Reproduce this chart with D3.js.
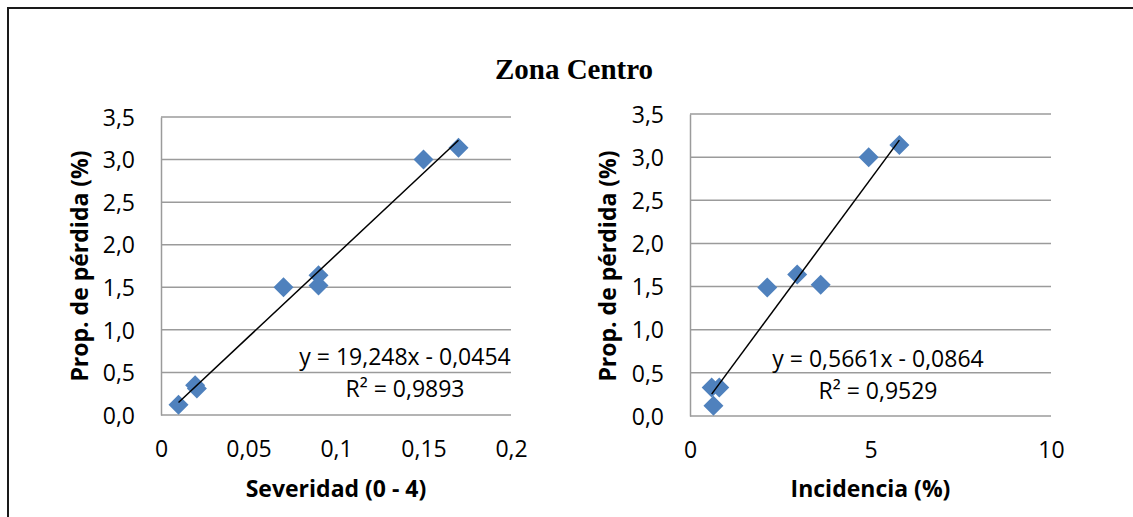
<!DOCTYPE html>
<html>
<head>
<meta charset="utf-8">
<script src="https://cdn.jsdelivr.net/npm/d3@7"></script>
<style>
  html, body { margin: 0; padding: 0; background: #fff; }
  svg { display: block; }
  text { font-family: "Open Sans", "Liberation Sans", Arial, sans-serif; fill: #000; }
</style>
</head>
<body>
<svg id="chart" width="1133" height="517"></svg>
<script>
// ---- data ----
const title = "Zona Centro";
const yLabel = "Prop. de pérdida (%)";
const yTicks = [0, 0.5, 1.0, 1.5, 2.0, 2.5, 3.0, 3.5];

const sevLabel = "Severidad (0 - 4)";
const sevX = [0.01, 0.0195, 0.0205, 0.07, 0.09, 0.09, 0.15, 0.17];
const sevY = [0.12, 0.35, 0.31, 1.50, 1.64, 1.52, 3.00, 3.14];
const sevTicks = [0, 0.05, 0.1, 0.15, 0.2];
const sevSlope = 19.248, sevIntercept = -0.0454;
const sevEq = ["y = 19,248x - 0,0454", "R² = 0,9893"];

const incLabel = "Incidencia (%)";
const incX = [0.60, 0.81, 0.65, 2.14, 2.97, 3.62, 4.95, 5.80];
const incY = [0.33, 0.33, 0.12, 1.49, 1.64, 1.52, 3.00, 3.14];
const incTicks = [0, 5, 10];
const incSlope = 0.5661, incIntercept = -0.0864;
const incEq = ["y = 0,5661x - 0,0864", "R² = 0,9529"];

// ---- drawing ----
const svg = d3.select("#chart");
svg.append("rect").attr("width", 1133).attr("height", 517).attr("fill", "#fff");

// outer frame (extends past right and bottom edges)
svg.append("path")
  .attr("d", "M8,530 L8,8 L1145,8")
  .attr("fill", "none").attr("stroke", "#1a1a1a").attr("stroke-width", 2);

svg.append("text")
  .attr("x", 574).attr("y", 79)
  .attr("text-anchor", "middle")
  .style("font-family", "'Liberation Serif', 'Times New Roman', serif")
  .style("font-weight", "bold").style("font-size", "29px")
  .text(title);

const comma = v => String(v).replace(".", ",");
const fmtY = v => d3.format(".1f")(v).replace(".", ",");
const FS = "23px";

function panel(cfg) {
  const x = d3.scaleLinear().domain(cfg.xDomain).range(cfg.xRange);
  const y = d3.scaleLinear().domain([0, 3.5]).range(cfg.yRange);
  const g = svg.append("g");

  // gridlines
  g.append("g").selectAll("line").data(yTicks).join("line")
    .attr("x1", cfg.xRange[0]).attr("x2", cfg.xRange[1])
    .attr("y1", d => y(d)).attr("y2", d => y(d))
    .attr("stroke", "#9b9b9b").attr("stroke-width", 1.5);

  // y axis
  const yAxis = d3.axisLeft(y).tickValues(yTicks).tickFormat(fmtY).tickSize(0).tickPadding(26);
  const ya = g.append("g").attr("transform", `translate(${cfg.xRange[0]},0)`).call(yAxis);
  ya.select(".domain").attr("stroke", "#9b9b9b").attr("stroke-width", 1.5);
  ya.selectAll("text").style("font-size", FS).attr("dy", "0.36em");

  // x axis (labels only; baseline gridline acts as axis)
  const xAxis = d3.axisBottom(x).tickValues(cfg.xTicks).tickFormat(comma).tickSize(0).tickPadding(26);
  const xa = g.append("g").attr("transform", `translate(0,${cfg.yRange[0]})`).call(xAxis);
  xa.select(".domain").remove();
  xa.selectAll("text").style("font-size", FS);

  // points (diamonds)
  const pts = cfg.xs.map((v, i) => [v, cfg.ys[i]]);
  const r = 10;
  g.append("g").selectAll("path").data(pts).join("path")
    .attr("d", d => {
      const cx = x(d[0]), cy = y(d[1]);
      return `M${cx},${cy - r} L${cx + r},${cy} L${cx},${cy + r} L${cx - r},${cy} Z`;
    })
    .attr("fill", "#4f81bd");

  // trend line drawn over markers
  const x0 = d3.min(cfg.xs), x1 = d3.max(cfg.xs);
  g.append("line")
    .attr("x1", x(x0)).attr("y1", y(cfg.slope * x0 + cfg.intercept))
    .attr("x2", x(x1)).attr("y2", y(cfg.slope * x1 + cfg.intercept))
    .attr("stroke", "#000").attr("stroke-width", 1.5);

  // equation
  g.append("g").selectAll("text").data(cfg.eq).join("text")
    .attr("x", cfg.eqX).attr("y", (d, i) => cfg.eqY + i * 32)
    .attr("text-anchor", "middle").style("font-size", FS)
    .text(d => d);

  // axis titles
  g.append("text")
    .attr("x", (cfg.xRange[0] + cfg.xRange[1]) / 2).attr("y", 497)
    .attr("text-anchor", "middle").style("font-weight", "bold").style("font-size", FS)
    .text(cfg.xLabel);
  g.append("text")
    .attr("transform", `translate(${cfg.yLabelX},${266}) rotate(-90)`)
    .attr("text-anchor", "middle").attr("dy", "0.35em")
    .style("font-weight", "bold").style("font-size", FS)
    .text(yLabel);
}

panel({
  xDomain: [0, 0.2], xRange: [161, 511], yRange: [415, 117],
  xs: sevX, ys: sevY, xTicks: sevTicks, slope: sevSlope, intercept: sevIntercept,
  eq: sevEq, eqX: 405, eqY: 365, xLabel: sevLabel, yLabelX: 80
});
panel({
  xDomain: [0, 10], xRange: [690, 1051], yRange: [416, 114],
  xs: incX, ys: incY, xTicks: incTicks, slope: incSlope, intercept: incIntercept,
  eq: incEq, eqX: 878, eqY: 367, xLabel: incLabel, yLabelX: 608
});
</script>
</body>
</html>
